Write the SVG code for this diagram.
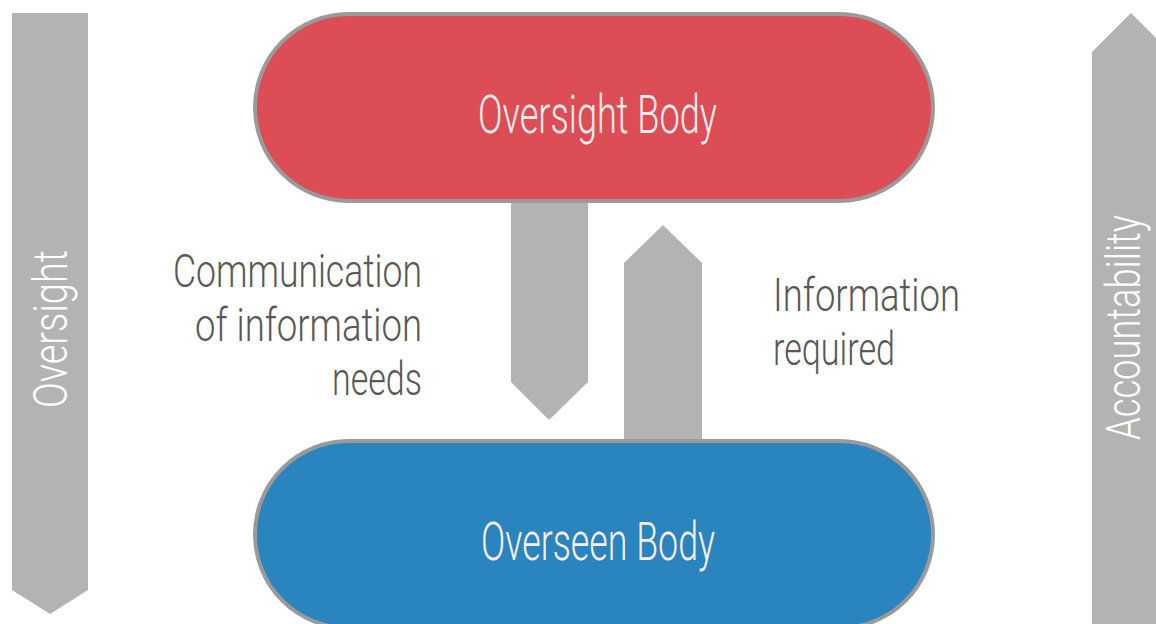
<svg xmlns="http://www.w3.org/2000/svg" width="1156" height="624" viewBox="0 0 1156 624">
  <style>
    .arrow { fill: #b3b3b3; }
    .pill { stroke: #9a9a9a; stroke-width: 4; }
    .t { font-family: "Roboto", "Liberation Sans", "DejaVu Sans", sans-serif; font-weight: 300; }
    .lbl { fill: #585858; font-size: 46px; }
    .in { fill: #fbeef0; font-size: 54px; }
    .side { fill: #ffffff; font-size: 48px; }
  </style>
  <rect width="1156" height="624" fill="#ffffff"/>

  <g id="oversight-arrow">
    <polygon class="arrow" points="12,13 88,13 88,590 50,614 12,590"/>
    <text class="t side" transform="translate(67,408) rotate(-90)" x="0" y="0" textLength="158" lengthAdjust="spacingAndGlyphs">Oversight</text>
  </g>

  <g id="accountability-arrow">
    <polygon class="arrow" points="1092,630 1092,52 1131,13 1170,52 1170,630"/>
    <text class="t side" transform="translate(1140,440) rotate(-90)" x="0" y="0" textLength="225" lengthAdjust="spacingAndGlyphs">Accountability</text>
  </g>

  <g id="connectors">
    <polygon class="arrow" points="511,195 588,195 588,382 549,420 511,382"/>
    <polygon class="arrow" points="624,445 624,263 663,225 702,263 702,445"/>
    <text class="t lbl" x="173" y="287" textLength="249" lengthAdjust="spacingAndGlyphs">Communication</text>
    <text class="t lbl" x="195" y="341" textLength="227" lengthAdjust="spacingAndGlyphs">of information</text>
    <text class="t lbl" x="332" y="395" textLength="90" lengthAdjust="spacingAndGlyphs">needs</text>
    <text class="t lbl" x="773" y="311" textLength="187" lengthAdjust="spacingAndGlyphs">Information</text>
    <text class="t lbl" x="773" y="365" textLength="122" lengthAdjust="spacingAndGlyphs">required</text>
  </g>

  <g id="oversight-body">
    <rect class="pill" x="255" y="14" width="678" height="187" rx="93.5" ry="93.5" fill="#dc4d55"/>
    <text class="t in" x="478" y="133" textLength="239" lengthAdjust="spacingAndGlyphs">Oversight Body</text>
  </g>

  <g id="overseen-body">
    <rect class="pill" x="255" y="441" width="678" height="187" rx="93.5" ry="93.5" fill="#2a84bd"/>
    <text class="t in" x="481" y="560" textLength="234" lengthAdjust="spacingAndGlyphs">Overseen Body</text>
  </g>
</svg>
